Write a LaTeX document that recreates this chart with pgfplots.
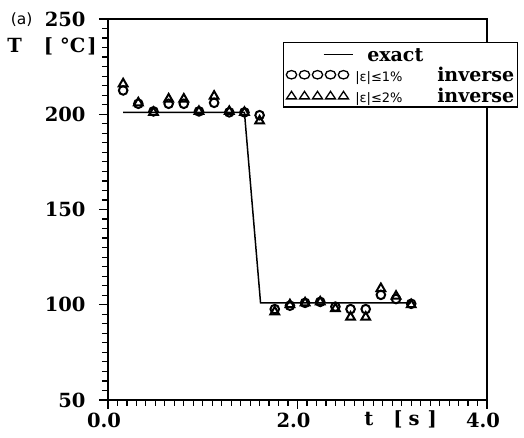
\documentclass[border=0pt]{standalone}
\usepackage{fontspec}
\setmainfont{DejaVu Serif}
\newfontfamily\dvs{DejaVu Sans}
\usepackage{pgfplots}
\pgfplotsset{compat=1.18}
\pgfplotstableread{
t     c      d
0.16  212.5  216.0
0.32  205.5  206.0
0.48  201.5  201.0
0.64  205.5  208.0
0.80  205.5  208.0
0.96  201.5  201.5
1.12  206.0  209.5
1.28  201.0  201.5
1.44  201.0  201.0
1.60  199.5  196.5
1.76  97.7   96.3
1.92  99.5   100.0
2.08  101.0  101.0
2.24  101.5  101.5
2.40  99.0   98.0
2.56  97.7   93.5
2.72  97.7   93.5
2.88  105.2  108.5
3.04  103.0  104.5
3.20  100.5  100.0
}\inv
\begin{document}
\begin{tikzpicture}
\begin{axis}[
  at={(0pt,0pt)}, anchor=south west,
  scale only axis, width=379pt, height=381pt,
  xmin=0, xmax=4, ymin=50, ymax=250,
  axis line style={line width=1.5pt},
  xtick={0,2,4}, xticklabels={0.0,2.0,4.0},
  minor x tick num=19,
  ytick={50,100,150,200,250},
  minor y tick num=9,
  xtick pos=bottom, ytick pos=left,
  tick align=outside,
  major tick length=9pt, minor tick length=6pt,
  tick style={line width=1.2pt, black},
  /pgf/number format/assume math mode=true,
  ticklabel style={font=\fontsize{19.5}{22}\selectfont\bfseries},
  xticklabel style={xshift=-4pt},
  yticklabel style={xshift=-10pt},
  xlabel={t\hspace{20pt}[\hspace{6pt}s\hspace{8pt}]},
  ylabel={T\hspace{22pt}[\hspace{7pt}°C\hspace{2pt}]},
  every axis x label/.style={at={(axis description cs:0.772,-0.052)}, anchor=center, font=\fontsize{19.5}{22}\selectfont\bfseries},
  every axis y label/.style={at={(axis description cs:-0.148,0.927)}, anchor=center, font=\fontsize{19.5}{22}\selectfont\bfseries},
  title={(a)},
  every axis title/.style={at={(axis description cs:-0.228,0.9987)}, anchor=center, font=\fontsize{15.5}{17}\selectfont\dvs},
  legend style={at={(axis description cs:0.462,0.94)}, anchor=north west,
    draw=black, line width=1.3pt, inner xsep=1pt, inner ysep=1.5pt, row sep=0pt,
    font=\fontsize{19}{21}\selectfont\bfseries,
    cells={anchor=west, text height=15pt, text depth=5pt}},
  legend cell align=left,
]
\addplot[black, line width=1.5pt,
  legend image code/.code={\path (0pt,0pt) (67pt,0pt); \draw[line width=1.4pt] (38pt,0) -- (67pt,0);}]
  coordinates {(0.16,201) (1.44,201) (1.61,101) (3.20,101)};
\addlegendentry{\hspace{12pt}exact}
\addplot[only marks, mark=o, mark size=4.3pt, black, mark options={line width=2pt},
  legend image code/.code={\path (0pt,0pt) (67pt,0pt); \foreach \i in {0,...,4}{\draw[line width=1.3pt] (\i*13pt+6pt,0) ellipse (5.2pt and 4.2pt);}}]
  table[x=t, y=c] {\inv};
\addlegendentry{\makebox[82pt][l]{\fontsize{13}{13}\selectfont\mdseries\dvs |ε|≤1\%}inverse}
\addplot[only marks, mark=triangle, mark size=5pt, black, mark options={line width=2pt},
  legend image code/.code={\path (0pt,0pt) (67pt,0pt); \foreach \i in {0,...,4}{\draw[line width=1.3pt] (\i*13pt+1pt,-3.6pt) -- ++(10pt,0) -- ++(-5pt,7.5pt) -- cycle;}}]
  table[x=t, y=d] {\inv};
\addlegendentry{\makebox[82pt][l]{\fontsize{13}{13}\selectfont\mdseries\dvs |ε|≤2\%}inverse}
\end{axis}
\path (-108pt,-38pt) rectangle (416pt,400pt);
\end{tikzpicture}
\end{document}
